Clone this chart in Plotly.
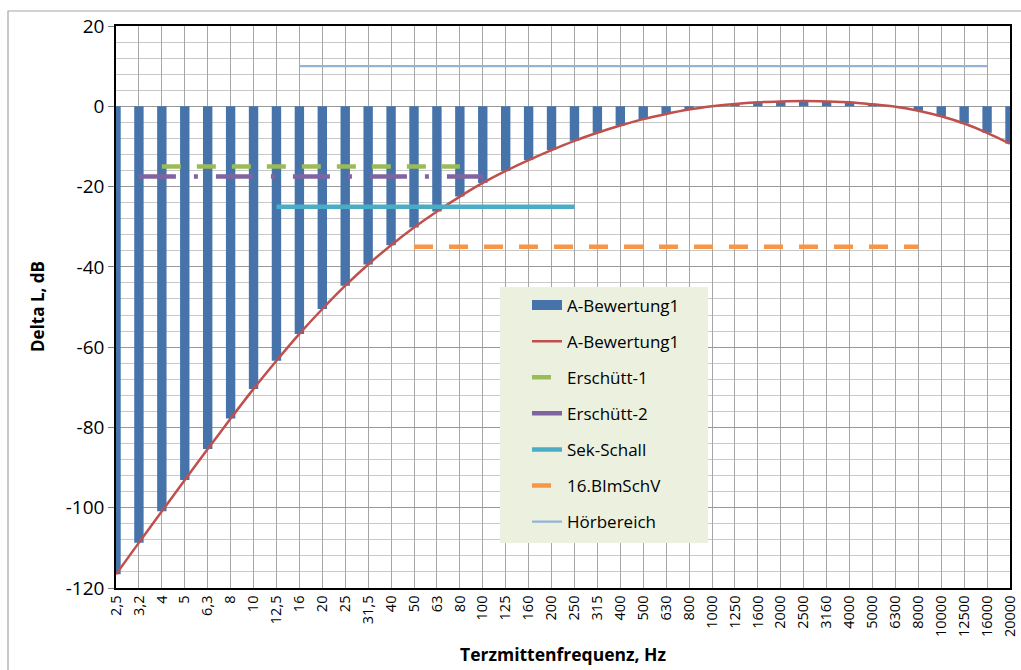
import plotly.graph_objects as go

# Third-octave band centre frequencies (German decimal notation)
freq_labels = ["2,5", "3,2", "4", "5", "6,3", "8", "10", "12,5", "16", "20",
               "25", "31,5", "40", "50", "63", "80", "100", "125", "160", "200",
               "250", "315", "400", "500", "630", "800", "1000", "1250", "1600", "2000",
               "2500", "3160", "4000", "5000", "6300", "8000", "10000", "12500", "16000", "20000"]

# A-weighting correction per band, dB
a_weight = [-116.6, -108.7, -100.9, -93.1, -85.4, -77.8, -70.4, -63.4, -56.7, -50.5,
            -44.7, -39.4, -34.6, -30.2, -26.2, -22.5, -19.1, -16.1, -13.4, -10.9,
            -8.6, -6.6, -4.8, -3.2, -1.9, -0.8, 0.0, 0.6, 1.0, 1.2,
            1.3, 1.2, 1.0, 0.5, -0.1, -1.1, -2.5, -4.3, -6.6, -9.3]

# Level axis ticks
y_tick_vals = [-120, -100, -80, -60, -40, -20, 0, 20]
y_tick_text = ["-120", "-100", "-80", "-60", "-40", "-20", "0", "20"]

# Frequency ranges of the assessment regimes (level, first band, last band)
limit_names = ["Erschütt-1", "Erschütt-2", "Sek-Schall", "16.BImSchV", "Hörbereich"]
limit_levels = [-15, -17.5, -25, -35, 10]
limit_start = ["4", "3,2", "12,5", "50", "16"]
limit_end = ["80", "100", "250", "8000", "16000"]

limit_styles = [
    dict(color="#9BBB59", width=4.5, dash="19px,16px"),
    dict(color="#8064A2", width=4.5, dash="37px,18px,4px,18px"),
    dict(color="#4BACC6", width=4.5, dash="solid"),
    dict(color="#F79646", width=4.5, dash="19px,16px"),
    dict(color="#95B3D7", width=2.2, dash="solid"),
]

FONT = "Open Sans"
BAR_COLOR = "#4674AA"

fig = go.Figure()

fig.add_trace(go.Bar(
    x=freq_labels, y=a_weight, width=0.41,
    marker=dict(color=BAR_COLOR, line=dict(width=0)),
    name="A-Bewertung1", legendgroup="g0", showlegend=False,
))
# legend entry for the bars, drawn as a wide block
fig.add_trace(go.Scatter(
    x=[None], y=[None], mode="lines",
    line=dict(color=BAR_COLOR, width=10),
    name="A-Bewertung1", legendgroup="g0",
))
fig.add_trace(go.Scatter(
    x=freq_labels, y=a_weight, mode="lines",
    line=dict(color="#C0504D", width=2.5, shape="spline", smoothing=0.8),
    name="A-Bewertung1", legendgroup="g1",
))

for i, name in enumerate(limit_names):
    i0 = freq_labels.index(limit_start[i])
    i1 = freq_labels.index(limit_end[i])
    xs = freq_labels[i0:i1 + 1]
    fig.add_trace(go.Scatter(
        x=xs, y=[limit_levels[i]] * len(xs), mode="lines",
        line=limit_styles[i], name=name, legendgroup=f"g{i + 2}",
    ))

plot_l, plot_r, plot_t, plot_b = 116, 1010, 26, 588
W, H = 1021, 670
pw, ph = plot_r - plot_l, plot_b - plot_t


def px_x(x):
    return (x - plot_l) / pw


def px_y(y):
    return (plot_b - y) / ph


fig.update_layout(
    width=W, height=H,
    margin=dict(l=plot_l, r=W - plot_r, t=plot_t, b=H - plot_b, pad=0),
    paper_bgcolor="white", plot_bgcolor="white",
    font=dict(family=FONT, color="black"),
    showlegend=True,
    legend=dict(
        x=px_x(527), y=px_y(287.5), xanchor="left", yanchor="top",
        bgcolor="rgba(0,0,0,0)", borderwidth=0,
        font=dict(family=FONT, size=17, color="black"),
        tracegroupgap=11, traceorder="grouped",
    ),
    shapes=[
        # legend panel
        dict(type="rect", xref="paper", yref="paper",
             x0=px_x(500), x1=px_x(708), y0=px_y(543), y1=px_y(287),
             fillcolor="#EBF1DE", line=dict(width=0), layer="above"),
        # chart frame
        dict(type="rect", xref="paper", yref="paper",
             x0=px_x(8), x1=px_x(1080), y0=px_y(700), y1=px_y(11),
             fillcolor="rgba(0,0,0,0)", line=dict(color="#A6A6A6", width=1.2),
             layer="below"),
    ],
    annotations=[
        dict(text="<b>Terzmittenfrequenz, Hz</b>", xref="paper", yref="paper",
             x=px_x(563), y=px_y(640), xanchor="center", yanchor="top",
             showarrow=False, font=dict(family=FONT, size=17.5, color="black")),
        dict(text="<b>Delta L, dB</b>", xref="paper", yref="paper",
             x=px_x(37), y=px_y(307), xanchor="center", yanchor="middle",
             textangle=-90, showarrow=False,
             font=dict(family=FONT, size=17, color="black")),
    ],
)

fig.update_xaxes(
    type="category", categoryorder="array", categoryarray=freq_labels,
    range=[0, len(freq_labels) - 1], automargin=False,
    tickangle=-90, tickfont=dict(family=FONT, size=14.5),
    showgrid=True, gridcolor="#A6A6A6", gridwidth=1,
    showline=True, linecolor="black", linewidth=1.5, mirror=True,
    ticks="", zeroline=False,
)

fig.update_yaxes(
    range=[-120, 20], tickvals=y_tick_vals, ticktext=y_tick_text, automargin=False,
    tickfont=dict(family=FONT, size=19),
    showgrid=True, gridcolor="#999999", gridwidth=1,
    minor=dict(dtick=4, tick0=0, showgrid=True, gridcolor="#C8C8C8", gridwidth=1),
    showline=True, linecolor="black", linewidth=1.5, mirror=True,
    ticks="outside", ticklen=6, tickcolor="#808080",
    zeroline=False,
)

fig.write_html("out.html")
